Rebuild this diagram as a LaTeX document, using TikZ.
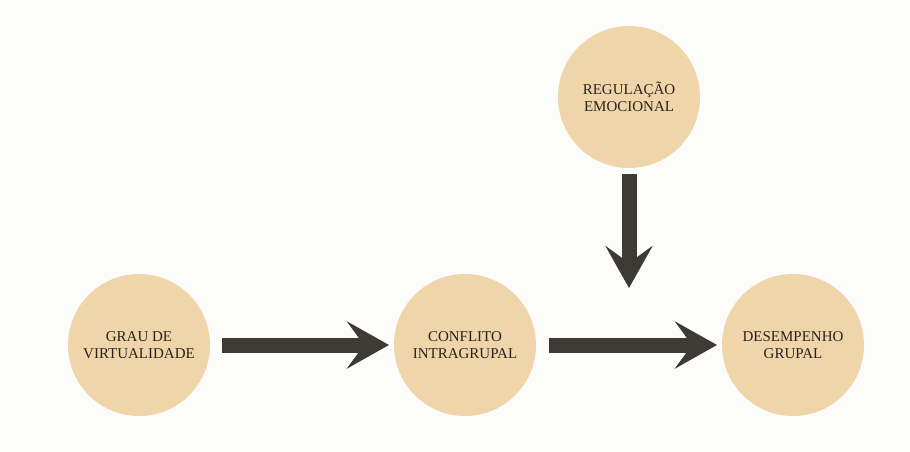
\documentclass[tikz,border=0pt]{standalone}
\usepackage{fontspec}
\setmainfont{Liberation Serif}
\usetikzlibrary{arrows.meta}
\definecolor{bege}{RGB}{240,213,170}
\definecolor{cinzaseta}{RGB}{62,59,54}
\definecolor{fundo}{RGB}{252,252,250}
\definecolor{texto}{RGB}{40,34,30}

\begin{document}
\begin{tikzpicture}[x=1pt, y=-1pt,
    var/.style={circle, fill=bege, minimum size=142pt, inner sep=0pt,
        outer sep=0pt, align=center, text=texto,
        font=\fontsize{15}{17}\selectfont},
    seta/.style={draw=cinzaseta, line width=15pt,
        -{Stealth[length=42pt, width=47pt, inset=17pt]}}]
    \fill[fundo] (0,0) rectangle (910,452);
    \useasboundingbox (0,0) rectangle (910,452);

    \node[var] (grau) at (139, 345) {GRAU DE\\VIRTUALIDADE};
    \node[var] (conflito) at (465, 345) {CONFLITO\\INTRAGRUPAL};
    \node[var] (desempenho) at (793, 345) {DESEMPENHO\\GRUPAL};
    \node[var] (regulacao) at (629, 97) {REGULAÇÃO\\EMOCIONAL};
    \coordinate (alvo) at (629, 288);

    \draw[seta, shorten <=12pt, shorten >=5pt] (grau) -- (conflito);
    \draw[seta, shorten <=13pt, shorten >=5pt] (conflito) -- (desempenho);
    \draw[seta, shorten <=6pt] (regulacao) -- (alvo);
\end{tikzpicture}
\end{document}
